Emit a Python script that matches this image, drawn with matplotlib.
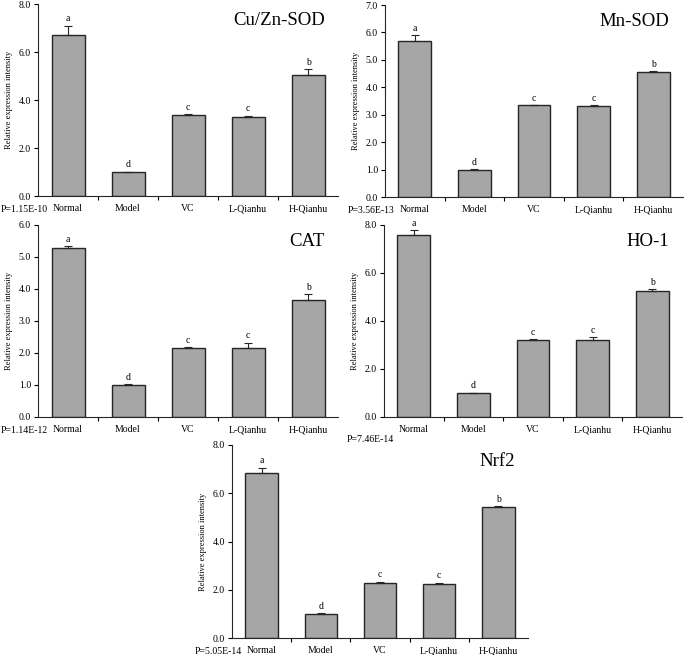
import numpy as np
import matplotlib
matplotlib.use("Agg")
import matplotlib.pyplot as plt
from matplotlib.ticker import FormatStrFormatter

plt.rcParams["font.family"] = ["Liberation Serif", "DejaVu Serif"]

groups = ["Normal", "Model", "VC", "L-Qianhu", "H-Qianhu"]
letters = ["a", "d", "c", "c", "b"]

cuzn_sod = [6.70, 1.00, 3.37, 3.31, 5.04]
cuzn_err = [0.40, 0.02, 0.05, 0.04, 0.24]
mn_sod = [5.70, 1.00, 3.34, 3.32, 4.56]
mn_err = [0.21, 0.02, 0.02, 0.03, 0.03]
cat = [5.28, 1.00, 2.17, 2.17, 3.65]
cat_err = [0.06, 0.02, 0.02, 0.15, 0.18]
ho1 = [7.60, 1.00, 3.21, 3.19, 5.26]
ho1_err = [0.18, 0.02, 0.04, 0.15, 0.06]
nrf2 = [6.83, 1.00, 2.30, 2.25, 5.43]
nrf2_err = [0.23, 0.02, 0.03, 0.04, 0.03]

p_values = ["P=1.15E-10", "P=3.56E-13", "P=1.14E-12", "P=7.46E-14", "P=5.05E-14"]
titles = ["Cu/Zn-SOD", "Mn-SOD", "CAT", "HO-1", "Nrf2"]
ymax = [8, 7, 6, 8, 8]
ystep = [2, 1, 1, 2, 2]

W, H = 685, 655
fig = plt.figure(figsize=(W / 100, H / 100), dpi=100)

# axes boxes in pixels: left, right, bottom(y of 0), top
boxes = [(38, 338, 196, 4), (385, 683, 197, 5), (38, 338, 417, 225),
         (384, 682, 417, 225), (232, 528, 638, 445)]
p_dy = [0, 0, 0, -0.045, 0]

data = [(cuzn_sod, cuzn_err), (mn_sod, mn_err), (cat, cat_err),
        (ho1, ho1_err), (nrf2, nrf2_err)]

for i, (vals, errs) in enumerate(data):
    l, r, b, t = boxes[i]
    ax = fig.add_axes([l / W, 1 - b / H, (r - l) / W, (b - t) / H])
    x = np.arange(len(groups))
    ax.bar(x, vals, width=0.55, color="#a6a6a6", edgecolor="#262626",
           linewidth=1.0, zorder=2)
    ax.errorbar(x, vals, yerr=[np.zeros(len(vals)), errs], fmt="none",
                ecolor="#262626", elinewidth=0.8, capsize=3, capthick=0.8,
                zorder=3)
    for xi, v, e, let in zip(x, vals, errs, letters):
        ax.text(xi, v + e + ymax[i] * 0.012, let, ha="center", va="bottom",
                fontsize=7)
    ax.set_xlim(-0.5, len(groups) - 0.5)
    ax.set_ylim(0, ymax[i])
    ax.set_yticks(np.arange(0, ymax[i] + 0.01, ystep[i]))
    ax.yaxis.set_major_formatter(FormatStrFormatter("%.1f"))
    ax.set_xticks(np.arange(0.5, len(groups) - 0.5, 1))
    ax.set_xticklabels([])
    ax.set_xticks(x, minor=True)
    ax.set_xticklabels(groups, minor=True)
    ax.tick_params(axis="x", which="minor", length=0, pad=6, labelsize=7)
    ax.tick_params(axis="x", which="major", length=3, direction="out")
    ax.tick_params(axis="y", length=3, direction="out", labelsize=7, pad=2)
    for s in ["top", "right"]:
        ax.spines[s].set_visible(False)
    ax.spines["left"].set_color("#262626")
    ax.spines["bottom"].set_color("#262626")
    ax.set_ylabel("Relative expression intensity", fontsize=6, labelpad=4)
    ax.text(0.955, 0.915, titles[i], transform=ax.transAxes, ha="right",
            va="center", fontsize=13.5)
    ax.text(-0.125, -0.072 + p_dy[i], p_values[i], transform=ax.transAxes,
            ha="left", va="center", fontsize=7)

fig.savefig("out.png", dpi=100)
